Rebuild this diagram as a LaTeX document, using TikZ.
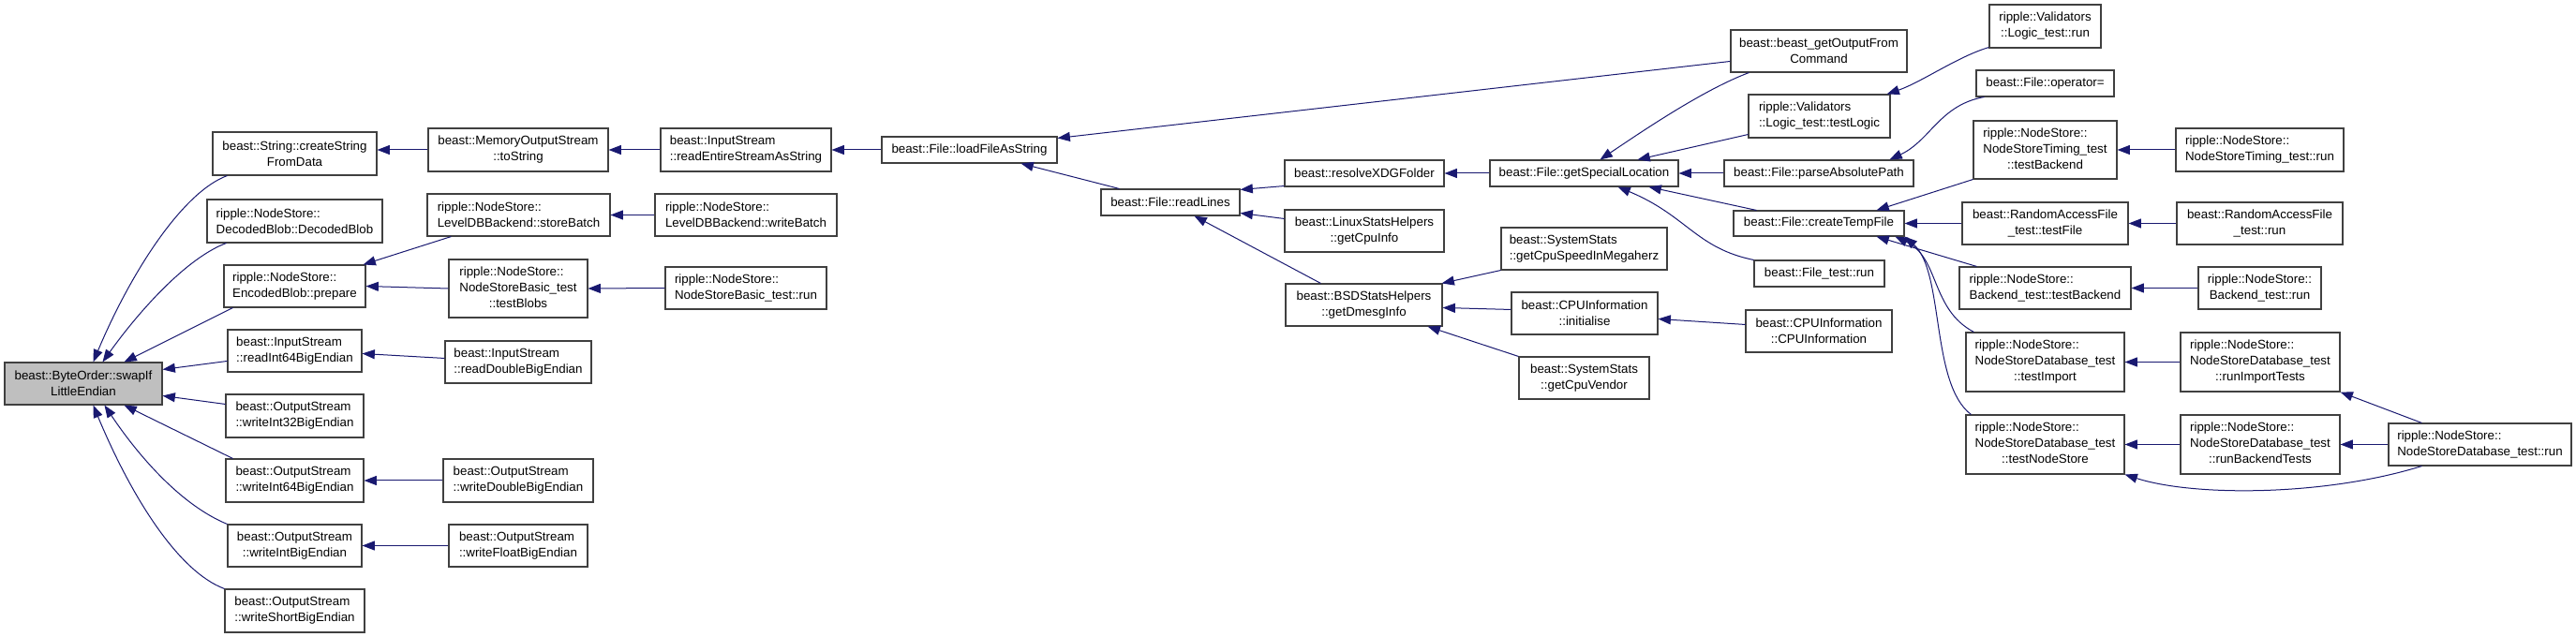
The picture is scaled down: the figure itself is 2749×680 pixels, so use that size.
\documentclass[tikz,border=0pt]{standalone}
\usepackage{fontspec}
\setmainfont{Liberation Sans}
\usetikzlibrary{arrows.meta}
\definecolor{edgeblue}{HTML}{191970}
\definecolor{boxline}{HTML}{404040}
\definecolor{boxfill}{HTML}{BFBFBF}
\newcommand\mixtext[3]{\begin{tabular}{@{}l@{}}#1\\#2\\\multicolumn{1}{@{}c@{}}{#3}\end{tabular}}
\newcommand\bx[7]{\node[box,#7,minimum width={(#4-#2)*0.75pt},minimum height={(#5-#3)*0.75pt}] (#1) at ({(#2+#4)/2},{(#3+#5)/2}) {#6};}
\begin{document}
\begin{tikzpicture}[x=0.75pt,y=-0.75pt,
  box/.style={draw=boxline,line width=0.8pt,fill=white,inner sep=0pt,text=black,font=\fontsize{10}{12.75}\selectfont},
  >={Triangle[length=10pt,width=7.5pt]},
  e/.style={draw=edgeblue,line width=0.75pt,<-}]
\useasboundingbox (0,0) rectangle (2749,680);
\bx{swap}{5}{387}{173}{432}{beast::ByteOrder::swapIf\\LittleEndian}{fill=boxfill,align=center}
\bx{csfd}{227}{141}{402}{187}{beast::String::createString\\FromData}{align=center}
\bx{dblob}{221}{213}{408}{259}{ripple::NodeStore::\\DecodedBlob::DecodedBlob}{align=left}
\bx{prep}{239}{283}{390}{328}{ripple::NodeStore::\\EncodedBlob::prepare}{align=left}
\bx{ri64}{243}{352}{386}{397}{beast::InputStream\\::readInt64BigEndian}{align=left}
\bx{wi32}{241}{421}{388}{467}{beast::OutputStream\\::writeInt32BigEndian}{align=left}
\bx{wi64}{241}{490}{388}{536}{beast::OutputStream\\::writeInt64BigEndian}{align=left}
\bx{wint}{243}{560}{386}{605}{beast::OutputStream\\::writeIntBigEndian}{align=center}
\bx{wshort}{240}{629}{389}{675}{beast::OutputStream\\::writeShortBigEndian}{align=left}
\bx{tostr}{457}{137}{649}{183}{beast::MemoryOutputStream\\::toString}{align=center}
\bx{rentire}{705}{137}{887}{183}{beast::InputStream\\::readEntireStreamAsString}{align=left}
\bx{store}{456}{207}{651}{252}{ripple::NodeStore::\\LevelDBBackend::storeBatch}{align=left}
\bx{wbatch}{699}{207}{893}{252}{ripple::NodeStore::\\LevelDBBackend::writeBatch}{align=left}
\bx{tblobs}{479}{277}{627}{339}{\mixtext{ripple::NodeStore::}{NodeStoreBasic\_test}{::testBlobs}}{}
\bx{nsbrun}{710}{285}{882}{330}{ripple::NodeStore::\\NodeStoreBasic\_test::run}{align=left}
\bx{rdouble}{475}{364}{631}{409}{beast::InputStream\\::readDoubleBigEndian}{align=left}
\bx{wdouble}{473}{490}{633}{536}{beast::OutputStream\\::writeDoubleBigEndian}{align=left}
\bx{wfloat}{479}{560}{627}{605}{beast::OutputStream\\::writeFloatBigEndian}{align=left}
\bx{loadf}{941}{146}{1128}{174}{beast::File::loadFileAsString}{}
\bx{rlines}{1175}{202}{1323}{230}{beast::File::readLines}{}
\bx{xdg}{1371}{171}{1541}{199}{beast::resolveXDGFolder}{}
\bx{cpuinfo}{1371}{224}{1541}{269}{beast::LinuxStatsHelpers\\::getCpuInfo}{align=center}
\bx{dmesg}{1372}{303}{1539}{348}{beast::BSDStatsHelpers\\::getDmesgInfo}{align=center}
\bx{spec}{1590}{171}{1791}{199}{beast::File::getSpecialLocation}{}
\bx{speed}{1602}{243}{1779}{288}{beast::SystemStats\\::getCpuSpeedInMegaherz}{align=left}
\bx{cinit}{1613}{312}{1769}{357}{beast::CPUInformation\\::initialise}{align=center}
\bx{vendor}{1621}{381}{1760}{426}{beast::SystemStats\\::getCpuVendor}{align=center}
\bx{gout}{1847}{32}{2035}{77}{beast::beast\_getOutputFrom\\Command}{align=center}
\bx{tlogic}{1866}{101}{2017}{147}{ripple::Validators\\::Logic\_test::testLogic}{align=left}
\bx{parse}{1840}{171}{2042}{199}{beast::File::parseAbsolutePath}{}
\bx{tmp}{1850}{225}{2032}{252}{beast::File::createTempFile}{}
\bx{ftrun}{1872}{278}{2011}{306}{beast::File\_test::run}{}
\bx{cpuc}{1863}{331}{2019}{376}{beast::CPUInformation\\::CPUInformation}{align=center}
\bx{lrun}{2123}{5}{2242}{51}{ripple::Validators\\::Logic\_test::run}{align=center}
\bx{opeq}{2109}{75}{2256}{103}{beast::File::operator=}{}
\bx{ntback}{2106}{129}{2259}{191}{\mixtext{ripple::NodeStore::}{NodeStoreTiming\_test}{::testBackend}}{}
\bx{rafile}{2094}{216}{2271}{261}{beast::RandomAccessFile\\\_test::testFile}{align=center}
\bx{btback}{2091}{285}{2274}{330}{ripple::NodeStore::\\Backend\_test::testBackend}{align=left}
\bx{timport}{2098}{355}{2267}{418}{\mixtext{ripple::NodeStore::}{NodeStoreDatabase\_test}{::testImport}}{}
\bx{tns}{2098}{443}{2267}{506}{\mixtext{ripple::NodeStore::}{NodeStoreDatabase\_test}{::testNodeStore}}{}
\bx{ntrun}{2322}{137}{2501}{183}{ripple::NodeStore::\\NodeStoreTiming\_test::run}{align=left}
\bx{rarun}{2323}{216}{2500}{261}{beast::RandomAccessFile\\\_test::run}{align=center}
\bx{brun}{2346}{285}{2477}{330}{ripple::NodeStore::\\Backend\_test::run}{align=center}
\bx{rimport}{2327}{355}{2497}{418}{\mixtext{ripple::NodeStore::}{NodeStoreDatabase\_test}{::runImportTests}}{}
\bx{rback}{2327}{443}{2497}{506}{\mixtext{ripple::NodeStore::}{NodeStoreDatabase\_test}{::runBackendTests}}{}
\bx{nsdrun}{2549}{452}{2744}{497}{ripple::NodeStore::\\NodeStoreDatabase\_test::run}{align=left}
% edges into swap
\draw[e] ([shift={(95,0)}]swap.north west) .. controls (140,290) and (195,205) .. ([shift={(16,0)}]csfd.south west);
\draw[e] ([shift={(105,0)}]swap.north west) .. controls (150,330) and (200,275) .. ([shift={(21,0)}]dblob.south west);
\draw[e] ([shift={(128,0)}]swap.north west) -- ([shift={(10,0)}]prep.south west);
\draw[e] ([shift={(0,8)}]swap.north east) -- ([shift={(0,34)}]ri64.north west);
\draw[e] ([shift={(0,36)}]swap.north east) -- ([shift={(0,11)}]wi32.north west);
\draw[e] ([shift={(128,0)}]swap.south west) -- ([shift={(8,0)}]wi64.north west);
\draw[e] ([shift={(107,0)}]swap.south west) .. controls (150,490) and (195,540) .. (wint.north west);
\draw[e] ([shift={(95,0)}]swap.south west) .. controls (140,530) and (190,610) .. (wshort.north west);
% second column
\draw[e] (csfd.east |- tostr.west) -- (tostr.west);
\draw[e] (tostr.east) -- (rentire.west);
\draw[e] (rentire.east) -- (loadf.west);
\draw[e] ([shift={(-3,0)}]prep.north east) -- ([shift={(26,0)}]store.south west);
\draw[e] (prep.east) -- (tblobs.west);
\draw[e] (store.east) -- (wbatch.west);
\draw[e] (tblobs.east) -- (nsbrun.west);
\draw[e] ([shift={(0,26)}]ri64.north east) -- ([shift={(0,19)}]rdouble.north west);
\draw[e] (wi64.east) -- (wdouble.west);
\draw[e] (wint.east) -- (wfloat.west);
% loadFileAsString / readLines
\draw[e] ([shift={(0,2)}]loadf.north east) -- ([shift={(0,34)}]gout.north west);
\draw[e] ([shift={(149,0)}]loadf.south west) -- ([shift={(20,0)}]rlines.north west);
\draw[e] ([shift={(0,1)}]rlines.north east) -- ([shift={(0,-1)}]xdg.south west);
\draw[e] ([shift={(0,26)}]rlines.north east) -- ([shift={(0,10)}]cpuinfo.north west);
\draw[e] ([shift={(100,0)}]rlines.south west) -- ([shift={(38,0)}]dmesg.north west);
% getSpecialLocation
\draw[e] (xdg.east) -- (spec.west);
\draw[e] ([shift={(118,0)}]spec.north west) .. controls (1760,135) and (1820,95) .. ([shift={(20,0)}]gout.south west);
\draw[e] ([shift={(158,0)}]spec.north west) -- ([shift={(0,-4)}]tlogic.south west);
\draw[e] (spec.east) -- (parse.west);
\draw[e] ([shift={(170,0)}]spec.south west) -- ([shift={(25,0)}]tmp.north west);
\draw[e] ([shift={(137,0)}]spec.south west) .. controls (1800,230) and (1810,265) .. (ftrun.north west);
% getDmesgInfo
\draw[e] ([shift={(-1,0)}]dmesg.north east) -- (speed.south west);
\draw[e] ([shift={(0,26)}]dmesg.north east) -- ([shift={(0,19)}]cinit.north west);
\draw[e] ([shift={(-16,0)}]dmesg.south east) -- (vendor.north west);
\draw[e] ([shift={(0,29)}]cinit.north east) -- ([shift={(0,16)}]cpuc.north west);
% right part
\draw[e] ([shift={(-4,0)}]tlogic.north east) .. controls (2050,88) and (2090,60) .. ([shift={(0,-1)}]lrun.south west);
\draw[e] ([shift={(177,0)}]parse.north west) .. controls (2060,150) and (2070,112) .. ([shift={(9,0)}]opeq.south west);
\draw[e] ([shift={(153,0)}]tmp.north west) -- (ntback.south west);
\draw[e] (tmp.east) -- (rafile.west);
\draw[e] ([shift={(153,0)}]tmp.south west) -- ([shift={(19,0)}]btback.north west);
\draw[e] ([shift={(173,0)}]tmp.south west) .. controls (2070,275) and (2060,330) .. ([shift={(9,0)}]timport.north west);
\draw[e] (tmp.south east) .. controls (2075,290) and (2060,410) .. ([shift={(6,0)}]tns.north west);
\draw[e] (ntback.east) -- (ntrun.west);
\draw[e] (rafile.east) -- (rarun.west);
\draw[e] (btback.east) -- (brun.west);
\draw[e] (timport.east) -- (rimport.west);
\draw[e] (tns.east) -- (rback.west);
\draw[e] (tns.south east) .. controls (2340,530) and (2480,530) .. ([shift={(36,0)}]nsdrun.south west);
\draw[e] (rimport.south east) -- ([shift={(36,0)}]nsdrun.north west);
\draw[e] (rback.east) -- (nsdrun.west);
\end{tikzpicture}
\end{document}
